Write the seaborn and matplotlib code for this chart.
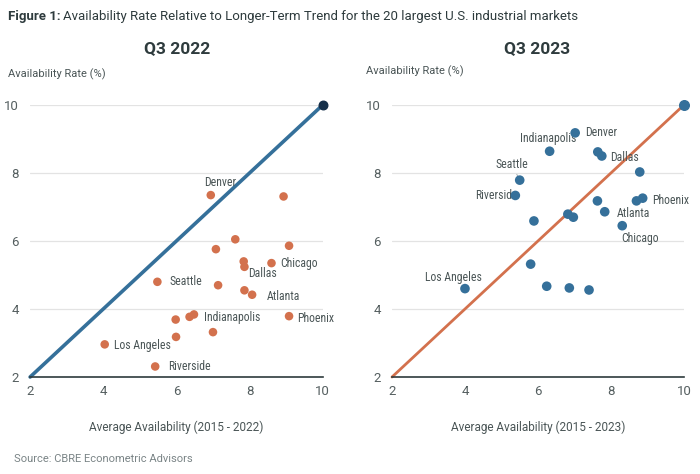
import matplotlib
matplotlib.use("Agg")
import matplotlib.pyplot as plt
import seaborn as sns
import pandas as pd
from matplotlib import font_manager

# data
cities_2022 = ["Denver", "", "", "", "", "", "Dallas", "Chicago", "Seattle", "",
               "", "Atlanta", "", "", "Indianapolis", "Phoenix", "", "", "Los Angeles", "Riverside"]
avg_2022 = [6.94, 8.93, 7.61, 9.08, 7.08, 7.84, 7.86, 8.60, 5.48, 7.14,
            7.86, 8.07, 5.98, 6.36, 6.48, 9.08, 7.00, 5.99, 4.04, 5.42]
rate_2022 = [7.35, 7.31, 6.05, 5.86, 5.76, 5.40, 5.24, 5.35, 4.80, 4.70,
             4.55, 4.42, 3.69, 3.77, 3.84, 3.79, 3.32, 3.18, 2.96, 2.31]

cities_2023 = ["Denver", "Indianapolis", "", "Dallas", "", "Seattle", "Riverside", "", "", "Phoenix",
               "Atlanta", "", "", "", "Chicago", "", "Los Angeles", "", "", ""]
avg_2023 = [7.02, 6.32, 7.64, 7.75, 8.79, 5.50, 5.38, 7.63, 8.70, 8.87,
            7.83, 6.82, 6.97, 5.89, 8.31, 5.80, 4.00, 6.24, 6.86, 7.40]
rate_2023 = [9.18, 8.64, 8.62, 8.50, 8.03, 7.79, 7.34, 7.18, 7.18, 7.26,
             6.86, 6.79, 6.70, 6.59, 6.45, 5.32, 4.60, 4.67, 4.62, 4.56]

trend = [2, 10]
ticks = [2, 4, 6, 8, 10]

orange = "#D3714D"
blue = "#35709A"
navy = "#16304A"
text_col = "#4A5556"


def pick(names):
    have = {f.name for f in font_manager.fontManager.ttflist}
    for n in names:
        if n in have:
            return n
    return "DejaVu Sans"


narrow = pick(["Liberation Sans Narrow", "Roboto Condensed", "Roboto"])
base = pick(["Roboto", "Open Sans", "DejaVu Sans"])

sns.set_style("white")
plt.rcParams["font.family"] = [base, "DejaVu Sans"]

fig = plt.figure(figsize=(7, 4.74), dpi=100)
ax1 = fig.add_axes([0.043, 0.2046, 0.418, 0.5739])
ax2 = fig.add_axes([0.560, 0.2046, 0.417, 0.5739])

df22 = pd.DataFrame({"avg": avg_2022, "rate": rate_2022, "city": cities_2022})
df23 = pd.DataFrame({"avg": avg_2023, "rate": rate_2023, "city": cities_2023})

# left panel
sns.lineplot(x=trend, y=trend, ax=ax1, color=blue, linewidth=2.6, zorder=2)
sns.scatterplot(data=df22, x="avg", y="rate", ax=ax1, color=orange, s=38,
                edgecolor="none", zorder=4)
ax1.scatter([trend[1]], [trend[1]], color=navy, s=38, zorder=5)

# right panel
sns.lineplot(x=trend, y=trend, ax=ax2, color=orange, linewidth=2.0, zorder=2)
sns.scatterplot(data=df23, x="avg", y="rate", ax=ax2, color=blue, s=48,
                edgecolor="none", zorder=4)
ax2.scatter([trend[1]], [trend[1]], color=blue, s=48, zorder=5)

# label offsets (points) and alignment
off22 = {
    "Denver": (7, 9, "center"), "Dallas": (3, -5, "left"), "Chicago": (6, 0, "left"),
    "Seattle": (8.5, 0, "left"), "Atlanta": (10.5, -1, "left"),
    "Indianapolis": (7, -2, "left"), "Phoenix": (5.5, -2, "left"),
    "Los Angeles": (6.7, -1, "left"), "Riverside": (9, 0, "left"),
}
off23 = {
    "Denver": (7, 0, "left"), "Indianapolis": (-1, 9, "center"), "Dallas": (6, -1, "left"),
    "Seattle": (-5.5, 11, "center"), "Riverside": (2, 0, "right"), "Phoenix": (6.7, -2, "left"),
    "Atlanta": (8.6, -1, "left"), "Chicago": (13, -9, "center"), "Los Angeles": (-8, 8, "center"),
}

for ax, df, offs in [(ax1, df22, off22), (ax2, df23, off23)]:
    for _, r in df.iterrows():
        if r["city"] in offs:
            dx, dy, ha = offs[r["city"]]
            ax.annotate(r["city"], (r["avg"], r["rate"]), xytext=(dx, dy),
                        textcoords="offset points", ha=ha, va="center",
                        fontsize=8.5, color=text_col, family=[narrow, "DejaVu Sans"],
                        zorder=3)

# small leader line for Seattle on the right
sea = df23[df23["city"] == "Seattle"].iloc[0]
ax2.annotate("", (sea["avg"], sea["rate"]), xytext=(-3, 6), textcoords="offset points",
             arrowprops=dict(arrowstyle="-", color="#9aa4a6", lw=0.6), zorder=3)

for ax, yr in [(ax1, "2022"), (ax2, "2023")]:
    ax.set_xlim(2, 10)
    ax.set_ylim(2, 10)
    ax.set_xticks(ticks)
    ax.set_yticks(ticks)
    ax.grid(axis="y", color="#E3E3E3", linewidth=0.9)
    ax.grid(axis="x", visible=False)
    for s in ["top", "right", "left"]:
        ax.spines[s].set_visible(False)
    ax.spines["bottom"].set_color("#2E3B3D")
    ax.spines["bottom"].set_linewidth(1.2)
    ax.tick_params(length=0, labelsize=9.5, labelcolor="#555f60", pad=6)
    ax.tick_params(axis="y", pad=8)
    ax.set_xlabel("Average Availability (2015 - " + yr + ")", fontsize=8.5,
                  color=text_col, labelpad=16)
    ax.set_ylabel("")
    ax.set_axisbelow(True)
    for c in ax.collections:
        c.set_clip_on(False)
    for l in ax.lines:
        l.set_clip_on(False)

fig.text(0.253, 0.898, "Q3 2022", ha="center", va="center", fontsize=12.5,
         fontweight="bold", color="#2E3B3D")
fig.text(0.767, 0.898, "Q3 2023", ha="center", va="center", fontsize=12.5,
         fontweight="bold", color="#2E3B3D")
fig.text(0.011, 0.844, "Availability Rate (%)", ha="left", va="center", fontsize=8,
         color=text_col)
fig.text(0.523, 0.850, "Availability Rate (%)", ha="left", va="center", fontsize=8,
         color=text_col)
fig.text(0.02, 0.031, "Source: CBRE Econometric Advisors", ha="left", va="center",
         fontsize=8, color="#7a8486")

# title: bold lead-in followed by regular text
t1 = fig.text(0.011, 0.966, "Figure 1:", ha="left", va="center", fontsize=9.5,
              fontweight="bold", color="#2E3B3D")
fig.canvas.draw()
bb = t1.get_window_extent(fig.canvas.get_renderer())
fig.text(bb.x1 / fig.bbox.width + 0.004, 0.966,
         "Availability Rate Relative to Longer-Term Trend for the 20 largest U.S. industrial markets",
         ha="left", va="center", fontsize=9.5, color="#2E3B3D")

fig.savefig("out.png", dpi=100)
